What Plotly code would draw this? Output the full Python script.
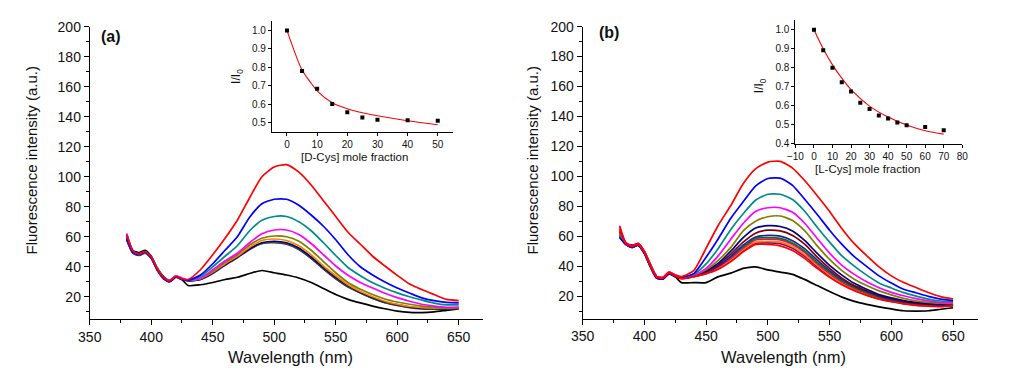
import plotly.graph_objects as go

# ---------------- data ----------------
WL = [380, 385, 390, 395, 400, 405, 410, 415, 420, 425, 430,
      440, 450, 460, 470, 480, 490, 500, 510, 520, 530, 540,
      550, 560, 570, 580, 590, 600, 610, 620, 630, 640, 650]

# panel (a) spectra
A_RED = [61, 50.5, 48.5, 50, 46.5, 38.5, 33, 30.5, 33.5, 32, 31.5,
         38, 48, 59, 71, 86, 100, 106.5, 108, 103, 94.5, 84,
         73.5, 63, 55, 47, 40.5, 34.3, 28.5, 24.8, 21.5, 18.3, 17.5]
A_BLUE = [59, 49.5, 48, 49.5, 46, 38, 32.5, 30, 33, 31.5, 31,
          34.5, 42, 51, 60, 73, 82, 85, 85, 81, 74.5, 67,
          58, 48, 40, 34.5, 29.8, 25.8, 22.5, 19.3, 17.4, 16.3, 16]
A_TEAL = [60, 50, 48.5, 50, 46.5, 38.5, 33, 30.5, 33.5, 32, 31,
          33.5, 40, 47, 54, 64, 71, 73.5, 73.5, 70, 64, 56,
          47.5, 39.5, 34, 29.3, 25.7, 22.6, 20, 17.8, 15.8, 14.6, 14.6]
A_MAGENTA = [62, 50.5, 48.5, 50, 46, 38, 32.5, 31, 34, 32.5, 31,
             32.3, 38, 44, 49, 56, 62, 64.5, 64.5, 61.5, 55.5, 48,
             40.5, 34.3, 29.5, 25.8, 22.3, 19.4, 17, 15, 13.8, 13, 13]
A_OLIVE = [60, 50, 48, 49.5, 46.5, 38.5, 33, 30.5, 33.5, 32, 31,
           32, 37, 43, 48, 54.5, 59, 60.5, 60, 57, 51, 43.5,
           36, 29.5, 25, 21.5, 18.5, 16.5, 15, 13.8, 13, 12.5, 12.5]
A_ORANGE = [59.5, 49.5, 48, 49.5, 46, 38, 32.5, 30.5, 34, 32, 31,
            32, 36.5, 42, 47, 53, 57.5, 58.5, 57.5, 54, 48, 40.5,
            34, 28, 23.5, 20, 17, 15, 13.5, 12.8, 12.5, 12.5, 13]
A_NAVY = [58, 49, 47.5, 49, 45.5, 37.5, 32, 30, 33, 31.5, 30.5,
          31.5, 36, 41.5, 46.5, 52, 56, 57, 56, 52.5, 46.5, 39.5,
          33, 27.5, 23, 19.5, 16.5, 14.8, 13.3, 12.5, 12.2, 12.2, 12.8]
A_GREEN = [58.5, 49.5, 48, 49.5, 46, 38, 32.5, 30.5, 33.5, 32, 31,
           32, 36, 41.5, 46.5, 52, 55.5, 56.5, 55.5, 52, 46, 39,
           32.5, 27, 22.8, 19, 16.2, 14.5, 13, 12.3, 12, 12, 12.5]
A_PURPLE = [60.5, 50, 48.5, 50, 46.5, 38.5, 33, 30.5, 33.5, 32, 31,
            31.5, 35.5, 41, 46, 51.5, 55.5, 56, 55, 51.5, 45.5, 38.5,
            32, 26.5, 22.5, 18.8, 16, 14.2, 12.8, 12, 11.8, 11.8, 12.3]
A_BLACK = [62, 51, 49.5, 51, 47, 39, 33.5, 31, 34, 31.5, 27.5,
           28, 29.5, 31.5, 33, 35.5, 37.5, 36, 34.5, 32.5, 29.5, 25.5,
           21.5, 18.3, 15.9, 13.8, 12, 10.5, 9.6, 9.5, 10, 11, 12]

# panel (b) spectra
B_RED = [67, 55.5, 53.5, 55, 49.5, 40.5, 33, 32.5, 36, 34, 33,
         37, 52, 67.5, 80.5, 95, 105, 109.5, 110, 105.5, 97, 87,
         76.5, 65, 55, 47, 39.5, 33.5, 29, 25.7, 22.4, 19.6, 18]
B_BLUE = [59, 54.5, 52.5, 54, 48.5, 39.5, 32, 31.5, 35, 33.5, 32.5,
          35, 46, 58.5, 72, 83, 93.5, 98.5, 98.8, 94, 84.5, 74.5,
          64, 54.5, 46.3, 39.8, 33.5, 28.7, 24.5, 22.2, 19.8, 18, 17]
B_TEAL = [62, 55, 53, 54.5, 49, 40, 32.5, 32, 35.5, 33.5, 32.5,
          34.5, 41.5, 52, 64.5, 75, 84, 88, 88, 84.5, 76.5, 66,
          56, 46.8, 40, 34, 28.8, 25.4, 22.3, 20, 18, 16.7, 16.2]
B_MAGENTA = [66, 55.5, 53.5, 55, 49.5, 40.5, 33, 32.5, 36, 34, 32.5,
             34, 38.5, 47, 58, 68.5, 76.5, 79, 79, 76, 68.5, 58.5,
             48.7, 40.5, 34.5, 29.5, 25.6, 22.5, 20.2, 18.3, 16.8, 15.8, 15.5]
B_OLIVE = [61, 55, 53, 54.5, 49, 40, 32.5, 32, 35.5, 33.5, 32,
           34, 37.5, 44, 52.5, 63.5, 70, 73, 73.5, 70.5, 63.5, 53.5,
           44.5, 37, 31.3, 27, 23.5, 20.8, 18.5, 16.8, 15.8, 15.2, 15]
B_NAVY = [60, 54.5, 52.5, 54, 48.5, 39.5, 32, 31.5, 35, 33, 32,
          33.5, 37, 42, 50, 59, 65.5, 67, 66.5, 63.5, 57, 48.5,
          40.5, 34, 28.5, 24.5, 21, 18.8, 17, 15.8, 15, 14.5, 14.5]
B_WINE = [63, 55, 53, 54.5, 49, 40, 32.5, 32, 35.5, 33.5, 32,
          33.5, 36.5, 41, 48, 56, 62, 64, 63.5, 60.5, 54.5, 46,
          38.5, 32, 27, 23.5, 20.5, 18.3, 16.5, 15.3, 14.6, 14.2, 14.2]
B_ROYAL = [60, 54.5, 52.5, 54, 48.5, 39.5, 32, 31.5, 35, 33, 32,
           33.5, 36, 40, 46.5, 54, 59.5, 60.5, 60, 57, 51.5, 44,
           37, 31, 26.5, 23, 20, 17.8, 16.2, 15, 14.3, 14, 14.2]
B_GREEN = [62, 55, 53, 54.5, 49, 40, 32.5, 32, 35.5, 33.5, 32,
           33.5, 36, 40, 46, 53, 58.5, 59, 58.5, 55.5, 50, 42.5,
           36, 30, 25.8, 22.3, 19.5, 17.3, 15.8, 14.7, 14, 13.8, 14]
B_PINK = [65, 55.5, 53.5, 55, 49.5, 40.5, 33, 32.5, 36, 34, 32,
          33.5, 35.5, 39.5, 45, 52, 57.5, 58, 57.5, 54.5, 49, 41.5,
          35, 29.3, 25, 21.8, 19, 17, 15.5, 14.4, 13.8, 13.6, 13.8]
B_ORANGE = [63, 55, 53, 54.5, 49, 40, 32.5, 32, 35.5, 33.5, 32,
            33, 35.5, 39, 44, 51, 56, 56.5, 56, 53, 47.5, 40.5,
            34, 28.5, 24.5, 21.2, 18.6, 16.7, 15.2, 14.2, 13.6, 13.4, 13.6]
B_PURPLE = [61, 54.5, 52.5, 54, 48.5, 39.5, 32, 31.5, 35, 33, 32,
            33, 35, 38.5, 43.5, 50, 55, 55.5, 55, 52, 46.5, 39.5,
            33.3, 28, 24, 20.8, 18.2, 16.4, 15, 14, 13.4, 13.2, 13.5]
B_RED2 = [64, 55, 53, 54.5, 49, 40, 32.5, 32, 35.5, 33.5, 31.5,
          33, 35, 38, 43, 49.5, 54.5, 54.5, 53.5, 50.5, 45, 38.5,
          32.5, 27.5, 23.5, 20.5, 18, 16.2, 14.8, 13.8, 13.3, 13, 13.5]
B_BLACK = [63, 55.5, 54, 55, 50, 41, 33, 32, 35.5, 33, 29,
           29, 29, 33, 35.3, 38.5, 39.5, 37.5, 36, 34.5, 31, 27,
           23, 19.3, 16.5, 14.5, 12.8, 11.4, 10.2, 10, 10.2, 11.2, 12.2]

# insets: quenching ratio I/I0
XA = [0, 5, 10, 15, 20, 25, 30, 40, 50]
YA = [1.0, 0.78, 0.683, 0.60, 0.556, 0.527, 0.515, 0.512, 0.51]
FIT_XA = [0, 2.5, 5, 7.5, 10, 15, 20, 25, 30, 40, 50]
FIT_YA = [1.0, 0.885, 0.785, 0.725, 0.672, 0.607, 0.575, 0.553, 0.537, 0.51, 0.488]

XB = [0, 5, 10, 15, 20, 25, 30, 35, 40, 45, 50, 60, 70]
YB = [1.0, 0.892, 0.80, 0.723, 0.675, 0.615, 0.583, 0.548, 0.532, 0.512, 0.497, 0.487, 0.47]
FIT_XB = [0, 5, 10, 15, 20, 30, 40, 50, 60, 70]
FIT_YB = [1.0, 0.9, 0.815, 0.745, 0.685, 0.598, 0.54, 0.498, 0.468, 0.45]

SERIES_A = [(A_BLACK, "#000000"), (A_PURPLE, "#800080"), (A_GREEN, "#008000"),
            (A_NAVY, "#000080"), (A_ORANGE, "#FF8000"), (A_OLIVE, "#808000"),
            (A_MAGENTA, "#FF00FF"), (A_TEAL, "#008B8B"), (A_BLUE, "#0000FF"),
            (A_RED, "#FF0000")]
SERIES_B = [(B_BLACK, "#000000"), (B_PURPLE, "#800080"), (B_ORANGE, "#FF8000"),
            (B_PINK, "#FF0080"), (B_GREEN, "#008000"), (B_ROYAL, "#2020B0"),
            (B_WINE, "#800000"), (B_NAVY, "#000080"), (B_OLIVE, "#808000"),
            (B_MAGENTA, "#FF00FF"), (B_TEAL, "#008B8B"), (B_BLUE, "#0000FF"),
            (B_RED, "#FF0000"), (B_RED2, "#FF0000")]

FONT = "Arial, Liberation Sans, sans-serif"

fig = go.Figure()
for ys, col in SERIES_A:
    fig.add_trace(go.Scatter(x=WL, y=ys, mode="lines", xaxis="x", yaxis="y",
                             line=dict(color=col, width=1.7, shape="spline", smoothing=0.6),
                             showlegend=False, hoverinfo="skip"))
for ys, col in SERIES_B:
    fig.add_trace(go.Scatter(x=WL, y=ys, mode="lines", xaxis="x2", yaxis="y2",
                             line=dict(color=col, width=1.7, shape="spline", smoothing=0.6),
                             showlegend=False, hoverinfo="skip"))

# insets
fig.add_trace(go.Scatter(x=FIT_XA, y=FIT_YA, mode="lines", xaxis="x3", yaxis="y3",
                         line=dict(color="#FF0000", width=1.1, shape="spline"), showlegend=False))
fig.add_trace(go.Scatter(x=XA, y=YA, mode="markers", xaxis="x3", yaxis="y3",
                         marker=dict(symbol="square", size=4, color="#000000"), showlegend=False))
fig.add_trace(go.Scatter(x=FIT_XB, y=FIT_YB, mode="lines", xaxis="x4", yaxis="y4",
                         line=dict(color="#FF0000", width=1.1, shape="spline"), showlegend=False))
fig.add_trace(go.Scatter(x=XB, y=YB, mode="markers", xaxis="x4", yaxis="y4",
                         marker=dict(symbol="square", size=4, color="#000000"), showlegend=False))

W, H = 1024, 368


def xd(l, r):
    return [l / W, r / W]


def yd(top, bot):
    return [(H - bot) / H, (H - top) / H]


main_x = dict(range=[350, 670], tickmode="linear", tick0=350, dtick=50,
              showline=True, linecolor="#000", linewidth=1, ticks="outside",
              ticklen=5, tickcolor="#000", showgrid=False, zeroline=False,
              tickfont=dict(size=14, color="#111", family=FONT),
              minor=dict(ticks="outside", ticklen=3, dtick=25, tickcolor="#000"))
main_y = dict(range=[5, 200], tickmode="linear", tick0=0, dtick=20,
              showline=True, linecolor="#000", linewidth=1, ticks="outside",
              ticklen=5, tickcolor="#000", showgrid=False, zeroline=False,
              tickfont=dict(size=14, color="#111", family=FONT),
              minor=dict(ticks="outside", ticklen=3, dtick=10, tickcolor="#000"))
ins_common = dict(showline=True, linecolor="#000", linewidth=1, ticks="outside",
                  ticklen=3, tickcolor="#000", showgrid=False, zeroline=False,
                  tickfont=dict(size=10, color="#111", family=FONT))

fig.update_layout(
    width=W, height=H, margin=dict(l=0, r=0, t=0, b=0),
    paper_bgcolor="white", plot_bgcolor="rgba(0,0,0,0)",
    font=dict(family=FONT, color="#111"),
    xaxis=dict(domain=xd(71, 471.6), anchor="y", **main_x),
    yaxis=dict(domain=yd(11, 314.4), anchor="x", **main_y),
    xaxis2=dict(domain=xd(572.7, 974.9), anchor="y2", **main_x),
    yaxis2=dict(domain=yd(11, 313.6), anchor="x2", **main_y),
    xaxis3=dict(domain=xd(256.4, 440.6), anchor="y3", range=[-5, 55],
                tickmode="linear", tick0=0, dtick=10, **ins_common),
    yaxis3=dict(domain=yd(5.4, 120), anchor="x3", range=[0.45, 1.05],
                tickmode="linear", tick0=0.5, dtick=0.1, tickformat=".1f", **ins_common),
    xaxis4=dict(domain=xd(789.3, 959.1), anchor="y4", range=[-10, 80],
                tickmode="linear", tick0=-10, dtick=10, **ins_common),
    yaxis4=dict(domain=yd(4.5, 132.3), anchor="x4", range=[0.4, 1.05],
                tickmode="linear", tick0=0.4, dtick=0.1, tickformat=".1f", **ins_common),
)


def ann(text, x, y, size, angle=0, bold=False):
    fig.add_annotation(text=f"<b>{text}</b>" if bold else text,
                       x=x / W, y=(H - y) / H, xref="paper", yref="paper",
                       showarrow=False, textangle=angle, xanchor="center", yanchor="middle",
                       borderpad=0,
                       font=dict(size=size, family=FONT, color="#111"))


ann("Fluorescence intensity (a.u.)", 12, 150, 15, -90)
ann("Fluorescence intensity (a.u.)", 522, 150, 15, -90)
ann("Wavelength (nm)", 275, 354, 16.5)
ann("Wavelength (nm)", 777, 354, 16.5)
ann("(a)", 93, 21, 16, bold=True)
ann("(b)", 600, 17, 16, bold=True)
ann("I/I<sub>0</sub>", 221, 63, 12, -90)
ann("[D-Cys] mole fraction", 340, 146, 11.5)
ann("I/I<sub>0</sub>", 754, 72, 12, -90)
ann("[L-Cys] mole fraction", 863, 159, 11.5)

fig.write_html("out.html")
